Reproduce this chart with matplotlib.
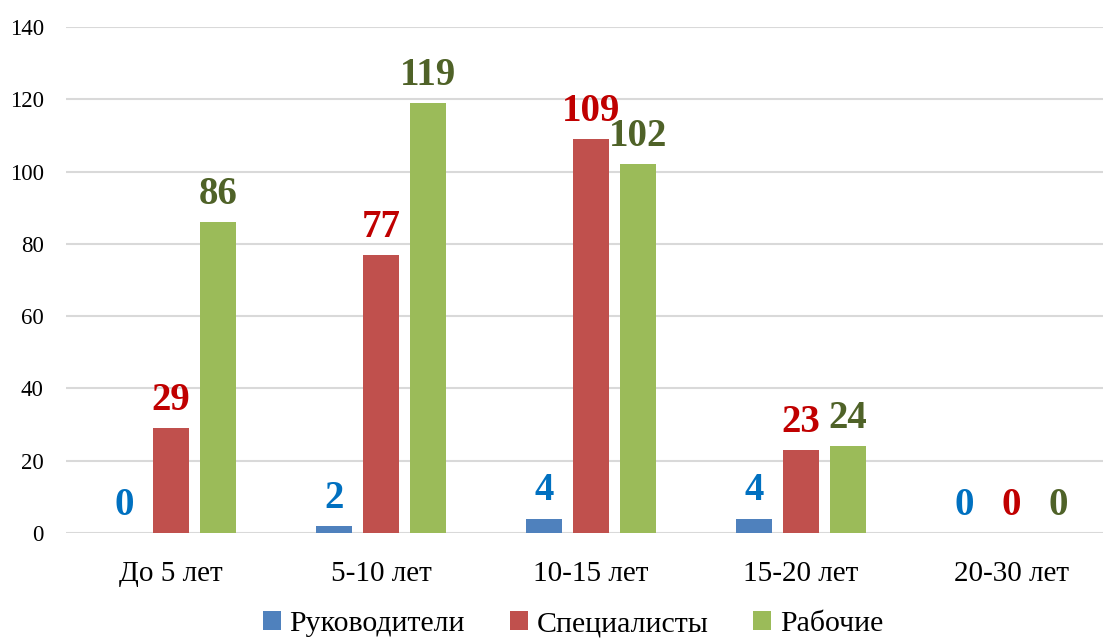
import matplotlib.pyplot as plt
import numpy as np

plt.rcParams["font.family"] = ["Liberation Serif", "DejaVu Serif"]

categories = ["До 5 лет", "5-10 лет", "10-15 лет", "15-20 лет", "20-30 лет"]
series_names = ["Руководители", "Специалисты", "Рабочие"]
managers = [0, 2, 4, 4, 0]
specialists = [29, 77, 109, 23, 0]
workers = [86, 119, 102, 24, 0]

bar_colors = ["#4F81BD", "#C0504D", "#9BBB59"]
label_colors = ["#0070C0", "#C00000", "#4F6228"]

fig = plt.figure(figsize=(11.03, 6.42), dpi=100)
# plot area runs a little past the right edge of the figure
ax = fig.add_axes([66 / 1103, 1 - 533 / 642, 1050 / 1103, 506 / 642])

x = np.arange(len(categories))
width = 36 / 210
step = 47 / 210

for i, (vals, name) in enumerate(zip([managers, specialists, workers], series_names)):
    pos = x + (i - 1) * step
    ax.bar(pos, vals, width, color=bar_colors[i], label=name, zorder=3)
    for px, v in zip(pos, vals):
        ax.annotate(str(v), (px, v), xytext=(0, 13), textcoords="offset points",
                    ha="center", va="baseline", fontsize=28, fontweight="bold",
                    color=label_colors[i])

ax.set_xlim(-0.5, len(categories) - 0.5)
ax.set_ylim(0, 140)
ax.set_yticks(range(0, 141, 20))
ax.set_xticks(x)
ax.set_xticklabels(categories)
ax.tick_params(axis="y", length=0, pad=16, labelsize=16.5)
ax.tick_params(axis="x", length=0, pad=20, labelsize=21)
ax.grid(axis="y", color="#D9D9D9", linewidth=1.5, zorder=0)
ax.set_axisbelow(True)
for s in ax.spines.values():
    s.set_visible(False)

fig.legend(loc="center", bbox_to_anchor=(573 / 1103, 1 - 624 / 642), ncol=3,
           frameon=False, fontsize=21.5, handlelength=0.6, handleheight=0.6,
           handletextpad=0.3, columnspacing=1.5)

fig.savefig("out.png", dpi=100)
